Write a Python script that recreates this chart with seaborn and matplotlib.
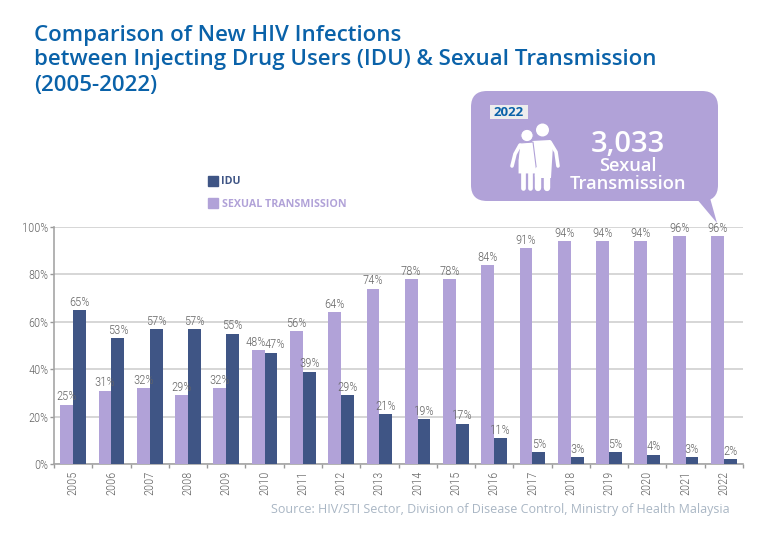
from matplotlib import pyplot as plt
from matplotlib.patches import FancyBboxPatch, Polygon, Circle, Rectangle
import pandas as pd
import numpy as np
import seaborn as sns

years = [str(y) for y in range(2005, 2023)]
sexual = [25, 31, 32, 29, 32, 48, 56, 64, 74, 78, 78, 84, 91, 94, 94, 94, 96, 96]
idu = [65, 53, 57, 57, 55, 47, 39, 29, 21, 19, 17, 11, 5, 3, 5, 4, 3, 2]
y_ticks = [0, 20, 40, 60, 80, 100]

PURPLE = "#B1A2D8"
NAVY = "#3F5585"
BLUE = "#0A62A9"
GREY = "#666666"
NARROW = "Roboto Condensed"

data = pd.DataFrame({
    "Year": years * 2,
    "Share": sexual + idu,
    "Group": ["SEXUAL TRANSMISSION"] * 18 + ["IDU"] * 18,
})

sns.set_style("white")
fig = plt.figure(figsize=(7.68, 5.41), dpi=100)
ax = fig.add_axes([54 / 768, 1 - 464 / 541, (743 - 54) / 768, (464 - 227) / 541])

sns.barplot(
    data=data, x="Year", y="Share", hue="Group",
    hue_order=["SEXUAL TRANSMISSION", "IDU"],
    palette=[PURPLE, NAVY], width=0.67, gap=0, saturation=1,
    linewidth=0, legend=False, ax=ax, zorder=3,
)

for container, nudge in zip(ax.containers, [-1.5, 3]):
    labels = ax.bar_label(container, fmt="%g%%", padding=1, fontsize=9.2, color=GREY,
                          family=NARROW, fontweight="light", zorder=5)
    # the 2010 pair sits side by side, so push the two labels apart
    labels[5].xyann = (nudge, 1)

ax.set_xlim(-0.5, 17.5)
ax.set_ylim(0, 100)
ax.set_xlabel("")
ax.set_ylabel("")
ax.set_yticks(y_ticks)
ax.set_yticklabels([f"{t}%" for t in y_ticks], family=NARROW, fontweight="light", fontsize=9, color=GREY)
ax.set_xticks(np.arange(-0.5, 18), minor=True)
ax.tick_params(axis="x", which="minor", length=3, width=1, color="#999999", bottom=True)
ax.tick_params(axis="x", which="major", length=0, pad=5)
ax.tick_params(axis="y", length=3, width=1, color="#999999", left=True, pad=1)
plt.setp(ax.get_xticklabels(), rotation=90, family=NARROW, fontweight="light", fontsize=9, color=GREY)
ax.grid(axis="y", color="#CFCFCF", lw=1.2, zorder=0)
ax.set_axisbelow(True)
for side in ["top", "right"]:
    ax.spines[side].set_visible(False)
for side in ["left", "bottom"]:
    ax.spines[side].set_color("#A5A5A5")
    ax.spines[side].set_linewidth(1.2)

# overlay in pixel coordinates for title, legend and callout
over = fig.add_axes([0, 0, 1, 1], zorder=10)
over.set_xlim(0, 768)
over.set_ylim(541, 0)
over.axis("off")

for line, ypos in zip(
    ["Comparison of New HIV Infections",
     "between Injecting Drug Users (IDU) & Sexual Transmission",
     "(2005-2022)"],
    [35, 60, 86],
):
    over.text(34, ypos, line, fontsize=16, fontweight="semibold", family="Open Sans",
              color=BLUE, va="center", ha="left")

over.add_patch(Rectangle((208, 176), 10, 10, color=NAVY))
over.text(221.5, 181.5, "IDU", fontsize=7.7, fontweight="bold", family="Open Sans", color=NAVY, va="center")
over.add_patch(Rectangle((208, 198), 10, 10, color=PURPLE))
over.text(221.5, 204.5, "SEXUAL TRANSMISSION", fontsize=7.7, fontweight="bold", family="Open Sans",
          color=PURPLE, va="center")

over.text(730, 510, "Source: HIV/STI Sector, Division of Disease Control, Ministry of Health Malaysia",
          fontsize=9, family="Open Sans", color="#A9B6C4", ha="right", va="center")

# callout
over.add_patch(FancyBboxPatch((471, 91), 247, 110, boxstyle="round,pad=0,rounding_size=16",
                              fc=PURPLE, ec="none"))
over.add_patch(Polygon([[696, 198], [710, 198], [717, 223]], fc=PURPLE, ec="none"))
over.add_patch(Rectangle((490, 105), 38, 14, fc="#EDEDED", ec="none"))
over.text(509, 112, "2022", fontsize=9.5, fontweight="bold", family="Open Sans", color=BLUE,
          ha="center", va="center")
over.text(628, 144, "3,033", fontsize=21, fontweight="semibold", family="Open Sans", color="white",
          ha="center", va="center")
over.text(628, 166, "Sexual", fontsize=13.2, fontweight="semibold", family="Open Sans", color="white",
          ha="center", va="center")
over.text(628, 184, "Transmission", fontsize=13.2, fontweight="semibold", family="Open Sans", color="white",
          ha="center", va="center")

# couple icon
def limb(xs, ys, width):
    over.plot(xs, ys, color="white", lw=width, solid_capstyle="round", solid_joinstyle="round")

over.add_patch(Circle((542.5, 130), 6.5, fc="white", ec="none"))
limb([550, 556, 558], [142, 152, 166], 2.6)
limb([538, 538], [170, 188], 4.6)
limb([546.5, 546.5], [170, 188], 4.6)
over.add_patch(Polygon([[532, 141], [550, 140], [553, 145], [551, 178], [535, 178]], fc="white", ec="none"))
limb([522.5, 522.5], [172, 188], 3.4)
limb([529.5, 529.5], [172, 188], 3.4)
limb([520, 515, 512], [145, 154, 166], 2.6)
over.add_patch(Polygon([[520, 143], [533, 142], [537, 174], [518, 174], [518, 160]],
                       fc="white", ec=PURPLE, lw=0.8))
over.add_patch(Circle((527, 135.5), 6.2, fc="white", ec=PURPLE, lw=0.8))

plt.savefig("out.png", dpi=100)
print("File Saved Sucessfully!")
